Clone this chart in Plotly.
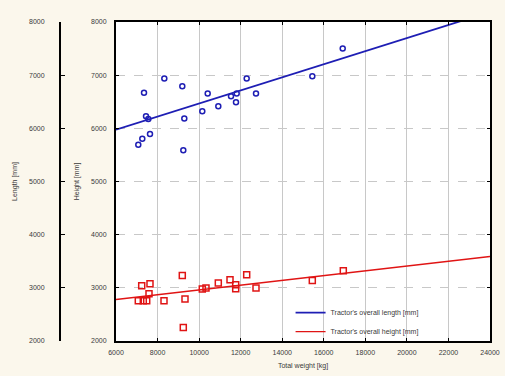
import plotly.graph_objects as go

# Tractor's overall length vs total weight
length_weight = [7073, 7266, 7348, 7444, 7555, 7636, 8325, 9191, 9239, 9287,
                 10153, 10413, 10924, 11535, 11809, 11775, 12290, 12738, 15448, 16911]
length_mm = [5693, 5806, 6667, 6226, 6177, 5895, 6936, 6791, 5586, 6183,
             6320, 6654, 6415, 6603, 6654, 6490, 6936, 6654, 6979, 7501]

# Tractor's overall height vs total weight
height_weight = [7073, 7314, 7478, 7237, 7636, 7588, 8310, 9191, 9321, 9239,
                 10153, 10331, 10924, 11487, 11761, 11761, 12290, 12738, 15448, 16940]
height_mm = [2756, 2756, 2756, 3038, 3076, 2888, 2756, 3232, 2788, 2253,
             2976, 2995, 3089, 3151, 3057, 2982, 3245, 2995, 3138, 3321]

# Fitted lines
fit_weight = [6000, 24000]
length_fit = [5975, 8190]
height_fit = [2780, 3590]

x_ticks = [6000, 8000, 10000, 12000, 14000, 16000, 18000, 20000, 22000, 24000]
y_ticks = [2000, 3000, 4000, 5000, 6000, 7000, 8000]

BLUE = "#1e1eb4"
RED = "#e01414"
FONT = "Liberation Sans, Arial, sans-serif"
TXT = "#3a3a3a"

fig = go.Figure()
fig.add_trace(go.Scatter(x=length_weight, y=length_mm, mode="markers",
                         marker=dict(symbol="circle-open", size=5, color=BLUE, line=dict(width=1.5)),
                         showlegend=False))
fig.add_trace(go.Scatter(x=fit_weight, y=length_fit, mode="lines",
                         line=dict(color=BLUE, width=1.8),
                         name="Tractor's overall length [mm]"))
fig.add_trace(go.Scatter(x=height_weight, y=height_mm, mode="markers",
                         marker=dict(symbol="square-open", size=6, color=RED, line=dict(width=1.5)),
                         showlegend=False))
fig.add_trace(go.Scatter(x=fit_weight, y=height_fit, mode="lines",
                         line=dict(color=RED, width=1.4),
                         name="Tractor's overall height [mm]"))
# dummy trace to show the Length axis
fig.add_trace(go.Scatter(x=[None], y=[None], yaxis="y2", showlegend=False))

W, H = 505, 376
L, R, T, B = 0, 15, 22, 35
pw = W - L - R
x0 = 116 / pw

fig.update_layout(
    width=W, height=H,
    margin=dict(l=L, r=R, t=T, b=B, autoexpand=False),
    paper_bgcolor="#fbf7ec",
    plot_bgcolor="white",
    font=dict(family=FONT, size=7, color=TXT),
    xaxis=dict(domain=[x0, 1], range=[6000, 24000], tickvals=x_ticks,
               ticktext=[str(v) for v in x_ticks], automargin=False,
               ticklabeloverflow="allow", ticklabelstandoff=4,
               showgrid=True, gridcolor="#c8c8c8", gridwidth=1,
               zeroline=False, showline=True, linecolor="black", linewidth=2,
               mirror="ticks", ticks="inside", ticklen=3, tickcolor="black",
               tickfont=dict(color=TXT),
               title=dict(text="Total weight [kg]", standoff=8,
                          font=dict(size=7, color=TXT))),
    yaxis=dict(range=[2000, 8000], tickvals=y_ticks, automargin=False,
               ticklabelstandoff=6,
               showgrid=True, gridcolor="#c8c8c8", griddash="dash", gridwidth=1,
               zeroline=False, showline=True, linecolor="black", linewidth=2,
               mirror="ticks", ticks="inside", ticklen=3, tickcolor="black",
               tickfont=dict(color=TXT),
               title=dict(text="Height [mm]", standoff=11,
                          font=dict(size=7, color=TXT))),
    yaxis2=dict(range=[2000, 8000], tickvals=y_ticks, overlaying="y",
                anchor="free", position=60 / pw, side="left", automargin=False,
                ticklabelstandoff=13,
                showgrid=False, zeroline=False, showline=True,
                linecolor="black", linewidth=2, ticks="inside", ticklen=4,
                tickcolor="black", tickfont=dict(color=TXT),
                title=dict(text="Length [mm]", standoff=10,
                           font=dict(size=7, color=TXT))),
    legend=dict(x=0.593, y=-0.016, xanchor="left", yanchor="bottom",
                bgcolor="rgba(0,0,0,0)", font=dict(size=7, color=TXT),
                tracegroupgap=0),
)

fig.write_html("out.html", config={"displayModeBar": False},
               post_script="document.body.style.margin='0';")
